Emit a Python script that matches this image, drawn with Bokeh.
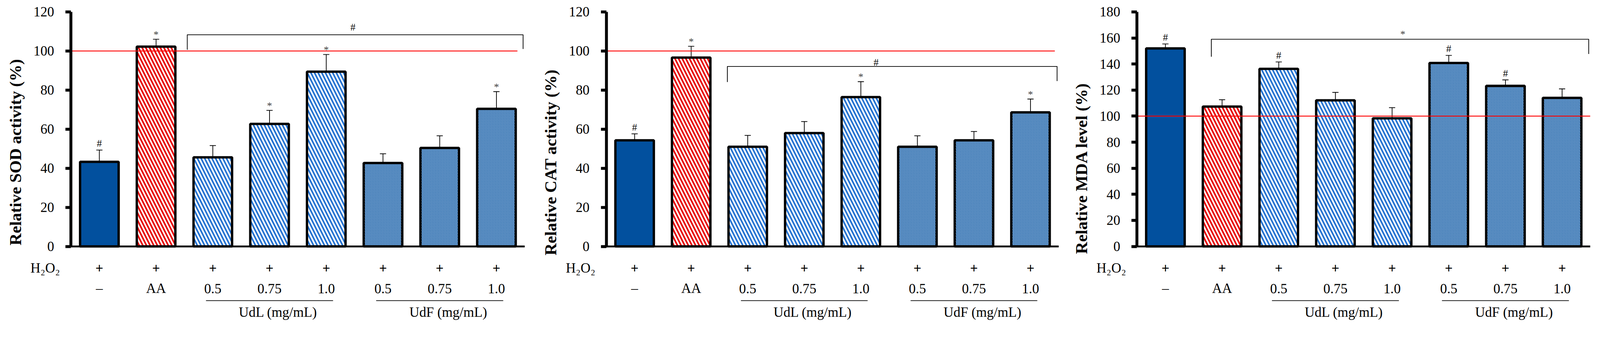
import math
from bokeh.plotting import figure
from bokeh.models import Range1d, FixedTicker, ColumnDataSource, Whisker, TeeHead
from bokeh.layouts import row
from bokeh.core.properties import value
from bokeh.embed import file_html
from bokeh.resources import INLINE

# ---------------- data ----------------
treatments = ["Control", "AA", "UdL 0.5", "UdL 0.75", "UdL 1.0", "UdF 0.5", "UdF 0.75", "UdF 1.0"]
h2o2_row = ["+", "+", "+", "+", "+", "+", "+", "+"]
dose_labels = ["–", "AA", "0.5", "0.75", "1.0", "0.5", "0.75", "1.0"]
group_labels = ["UdL (mg/mL)", "UdF (mg/mL)"]
group_first = [2, 5]
group_last = [4, 7]

sod_mean = [43.3, 102.2, 45.6, 62.7, 89.4, 42.7, 50.4, 70.4]
sod_sd = [6.0, 3.8, 6.0, 6.9, 8.8, 4.7, 6.2, 8.8]
sod_marks = ["#", "*", "", "*", "*", "", "", "*"]

cat_mean = [54.3, 96.6, 51.0, 58.0, 76.4, 51.0, 54.3, 68.6]
cat_sd = [3.3, 5.8, 5.8, 5.9, 7.9, 5.6, 4.5, 6.8]
cat_marks = ["#", "*", "", "", "*", "", "", "*"]

mda_mean = [152.0, 107.3, 136.3, 112.1, 98.3, 140.8, 123.2, 114.0]
mda_sd = [3.4, 5.3, 5.3, 6.1, 8.2, 5.8, 4.6, 6.9]
mda_marks = ["#", "", "#", "", "", "#", "#", ""]

sod_ticks = [0, 20, 40, 60, 80, 100, 120]
cat_ticks = [0, 20, 40, 60, 80, 100, 120]
mda_ticks = [0, 20, 40, 60, 80, 100, 120, 140, 160, 180]

# bracket: x start, x end, left leg bottom, top, right leg bottom, symbol, symbol x, symbol y
sod_bracket = dict(x0=2.05, x1=7.97, yl=100.6, top=108.3, yr=101.0, sym="#", sx=4.97, sy=113.9)
cat_bracket = dict(x0=2.14, x1=7.97, yl=84.1, top=92.1, yr=84.6, sym="#", sx=4.77, sy=96.0)
mda_bracket = dict(x0=1.31, x1=7.97, yl=145.6, top=159.0, yr=147.7, sym="*", sx=4.69, sy=166.9)

reference_level = 100

# ---------------- styles ----------------
S = 0.93  # global pixel scale
FONT = "Liberation Serif"
bar_fill = ["#02509E", "white", "white", "white", "white", "white", "white", "white"]
bar_hatch = [" ", "\\", "\\", "\\", "\\", "\\", "\\", "\\"]
bar_hatch_color = ["#02509E", "#E60000", "#1F6FD0", "#1F6FD0", "#1F6FD0", "#0A56A3", "#0A56A3", "#0A56A3"]
bar_hatch_scale = [12 * S, 20 * S, 20 * S, 20 * S, 20 * S, 7.5 * S, 7.5 * S, 7.5 * S]
bar_hatch_weight = [1, 4.5 * S, 4.5 * S, 4.5 * S, 4.5 * S, 2.3 * S, 2.3 * S, 2.3 * S]
mark_color = {"#": "black", "*": "#404040", "": "black"}
mark_shift = {"#": 9.5, "*": 15.0, "": 0.0}


def px(v):
    return v * S


def fs(v):
    return "%.1fpx" % (v * S)


FIG_H = 884
TOP_PAD = 2          # figure top to frame top
TOP_TICK_PX = 30     # px from frame top to the highest tick
ZERO_PX = 30 + 645   # px from frame top to zero


def make_chart(title, means, sds, marks, ticks, bracket, left_px, frame_w,
               border_right, red_end, title_center):
    n = len(means)
    ymax = ticks[-1]
    ppu = px(ZERO_PX - TOP_TICK_PX) / ymax
    ppx = px(frame_w) / n
    frame_h = px(FIG_H - TOP_PAD)
    ytop = ymax + px(TOP_TICK_PX) / ppu
    ybot = ytop - frame_h / ppu
    xl = -px(left_px) / ppx

    p = figure(width=int(round(px(left_px + frame_w + border_right))), height=int(round(px(FIG_H))),
               min_border_left=0, min_border_right=int(round(px(border_right))),
               min_border_top=int(round(px(TOP_PAD))), min_border_bottom=0,
               x_range=Range1d(xl, n), y_range=Range1d(ybot, ytop),
               x_axis_location=None, output_backend="svg", toolbar_location=None)
    p.outline_line_color = None
    p.grid.visible = False
    p.background_fill_color = "white"
    p.border_fill_color = "white"

    ax = p.yaxis[0]
    ax.fixed_location = 0
    ax.ticker = FixedTicker(ticks=ticks)
    ax.bounds = (0, ymax)
    ax.axis_line_width = px(8)
    ax.axis_line_color = "black"
    ax.major_tick_line_width = px(8)
    ax.major_tick_out = int(round(px(15)))
    ax.major_tick_in = 0
    ax.minor_tick_line_color = None
    ax.major_label_text_font = FONT
    ax.major_label_text_font_size = fs(38)
    ax.major_label_text_color = "black"
    ax.major_label_standoff = int(round(px(31)))

    xs = [i + 0.5 for i in range(n)]
    src = ColumnDataSource(dict(
        x=xs, top=means, fill=bar_fill, hatch=bar_hatch, hcol=bar_hatch_color,
        hscale=bar_hatch_scale, hweight=bar_hatch_weight,
        upper=[m + s for m, s in zip(means, sds)],
        lower=[m - s for m, s in zip(means, sds)],
    ))
    p.vbar(x="x", top="top", bottom=0, width=0.68, source=src,
           fill_color="fill", line_color="black", line_width=px(6.5),
           hatch_pattern="hatch", hatch_color="hcol", hatch_scale="hscale",
           hatch_weight="hweight")

    # reference line and x axis line
    p.segment(x0=[0], y0=[reference_level], x1=[red_end], y1=[reference_level],
              line_color="#FF0000", line_width=px(2.5))
    p.segment(x0=[0], y0=[0], x1=[n], y1=[0], line_color="black", line_width=px(5))

    p.add_layout(Whisker(source=src, base="x", upper="upper", lower="lower",
                         line_width=px(2), line_color="black",
                         upper_head=TeeHead(size=px(17), line_width=px(2), line_color="black"),
                         lower_head=TeeHead(size=px(17), line_width=px(2), line_color="black")))

    # significance marks above bars
    mx, my, mt, mc, mo = [], [], [], [], []
    for x, m, s, k in zip(xs, means, sds, marks):
        if k:
            mx.append(x); my.append(m + s); mt.append(k)
            mc.append(mark_color[k]); mo.append(px(mark_shift[k] - 28))
    p.text(x=mx, y=my, text=mt, text_color=mc, y_offset=mo,
           text_font=value(FONT), text_font_size=fs(28),
           text_align="center", text_baseline="alphabetic")

    # bracket
    b = bracket
    p.multi_line(xs=[[b["x0"], b["x0"], b["x1"], b["x1"]]],
                 ys=[[b["yl"], b["top"], b["top"], b["yr"]]],
                 line_color="black", line_width=px(2))
    p.text(x=[b["sx"]], y=[b["sy"]], text=[b["sym"]], text_color=[mark_color[b["sym"]]],
           y_offset=px(mark_shift[b["sym"]]), text_font=value(FONT), text_font_size=fs(28),
           text_align="center", text_baseline="alphabetic")

    # category rows
    p.text(x=xs, y=[-px(60) / ppu] * n, text=h2o2_row, text_font=value(FONT),
           text_font_size=fs(38), text_font_style="bold", text_align="center",
           text_baseline="middle", text_color="black")
    p.text(x=xs, y=[-px(116) / ppu] * n, text=dose_labels, text_font=value(FONT),
           text_font_size=fs(38), text_align="center", text_baseline="middle",
           text_color="black")
    gx0 = [xs[a] - 0.12 for a in group_first]
    gx1 = [xs[c] + 0.12 for c in group_last]
    gy = [-px(149) / ppu] * len(gx0)
    p.segment(x0=gx0, y0=gy, x1=gx1, y1=gy, line_color="black", line_width=px(2))
    gcx = [(xs[a] + xs[c]) / 2 + 0.15 for a, c in zip(group_first, group_last)]
    p.text(x=gcx, y=[-px(181) / ppu] * len(gcx), text=group_labels, text_font=value(FONT),
           text_font_size=fs(38), text_align="center", text_baseline="middle",
           text_color="black")

    # row caption and y-axis title
    p.text(x=[-px(71) / ppx], y=[-px(60) / ppu], text=["H₂O₂"], text_font=value(FONT),
           text_font_size=fs(38), text_align="center", text_baseline="middle",
           text_color="black")
    p.text(x=[-px(153) / ppx], y=[title_center], text=[title], angle=[math.pi / 2],
           text_font=value(FONT), text_font_size=fs(46), text_font_style="bold",
           text_align="center", text_baseline="middle", text_color="black")
    return p


p1 = make_chart("Relative SOD activity (%)", sod_mean, sod_sd, sod_marks, sod_ticks,
                sod_bracket, 195, 1250, 7, 7.87, 48.2)
p2 = make_chart("Relative CAT activity (%)", cat_mean, cat_sd, cat_marks, cat_ticks,
                cat_bracket, 217, 1246, 7, 7.93, 43.0)
p3 = make_chart("Relative MDA level (%)", mda_mean, mda_sd, mda_marks, mda_ticks,
                mda_bracket, 208, 1248, 0, 8.0, 60.0)

layout = row(p1, p2, p3)
open("out.html", "w").write(file_html(layout, INLINE))
